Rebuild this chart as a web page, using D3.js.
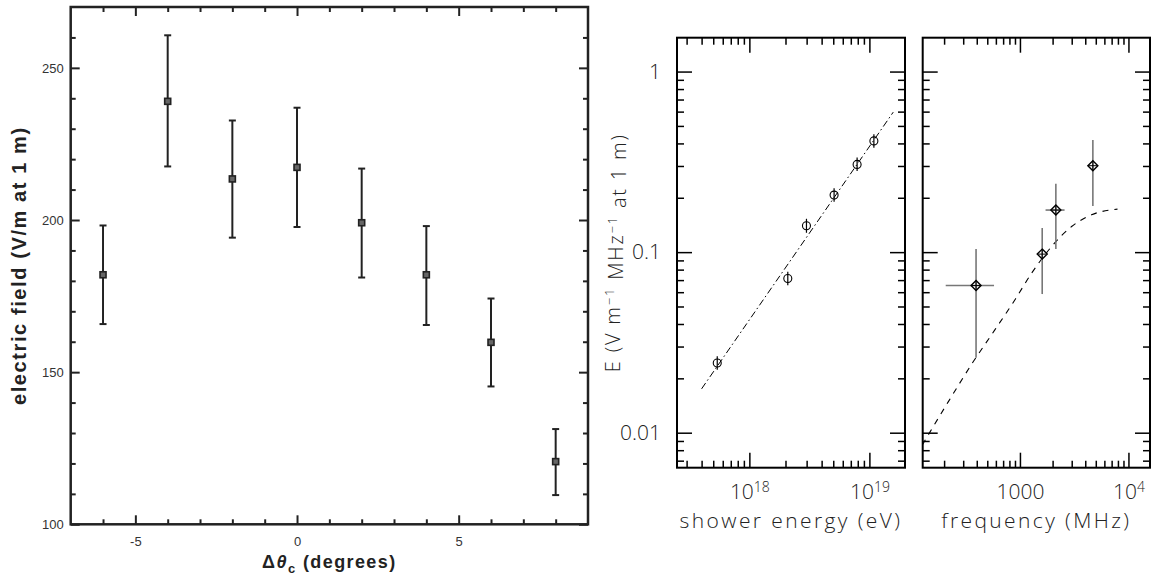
<!DOCTYPE html>
<html>
<head>
<meta charset="utf-8">
<script src="https://cdn.jsdelivr.net/npm/d3@7"></script>
<style>
  body { margin: 0; background: #fff; }
  .lt text { font-family: "Liberation Sans", Arial, sans-serif; font-size: 13px; fill: #333; }
  .thin text { font-family: "Open Sans", "DejaVu Sans", sans-serif; font-weight: 300; font-size: 21px; fill: #222; }
</style>
</head>
<body>
<svg id="chart" width="1151" height="579"></svg>
<script>
// left panel: field vs. offset from the Cherenkov angle
const angles = [-6, -4, -2, 0, 2, 4, 6, 8];
const fieldVals = [182, 239, 213.5, 217.3, 199.1, 182, 159.8, 120.6];
const fieldLo = [165.8, 217.6, 194.2, 197.7, 181.1, 165.5, 145.3, 109.6];
const fieldHi = [198.2, 260.7, 232.7, 236.9, 216.9, 198, 174.2, 131.3];
const angleTicks = [-5, 0, 5];
const fieldTicks = [100, 150, 200, 250];

// middle panel: field vs. shower energy
const energies = [5.4e17, 2.09e18, 2.99e18, 5.08e18, 7.9e18, 1.09e19];
const energyField = [0.0243, 0.0714, 0.140, 0.207, 0.306, 0.413];
const energyFieldLo = [0.0223, 0.0655, 0.128, 0.190, 0.281, 0.379];
const energyFieldHi = [0.0265, 0.0778, 0.153, 0.226, 0.334, 0.450];
const fitEnergy = [4.0e17, 1.58e19];
const fitField = [0.0175, 0.596];
const energyTicks = [1e18, 1e19];

// right panel: field vs. frequency
const freqs = [394, 1604, 2143, 4700];
const freqLo = [207, null, 1722, null];
const freqHi = [577, null, 2578, null];
const freqField = [0.0653, 0.0975, 0.171, 0.301];
const freqFieldLo = [0.026, 0.0586, 0.104, 0.180];
const freqFieldHi = [0.104, 0.136, 0.239, 0.418];
const modelFreq = [126, 149, 219, 372, 589, 900, 1282, 1959, 2993, 4571, 7925];
const modelField = [0.00855, 0.01014, 0.01486, 0.02477, 0.0372, 0.0545, 0.0765, 0.1074, 0.1386, 0.161, 0.173];
const freqTicks = [1000, 1e4];
const logFieldTicks = [0.01, 0.1, 1];

const svg = d3.select('#chart');

// ticks pointing into the frame on all four sides
function frameTicks(g, x, y, box, opt) {
  const sides = [
    [d3.axisBottom(x), `translate(0,${box.b})`, opt.xMajor, opt.xMinor, opt.xLabels],
    [d3.axisTop(x), `translate(0,${box.t})`, opt.xMajor, opt.xMinor, false],
    [d3.axisLeft(y), `translate(${box.l},0)`, opt.yMajor, opt.yMinor, opt.yLabels],
    [d3.axisRight(y), `translate(${box.r},0)`, opt.yMajor, opt.yMinor, false]
  ];
  sides.forEach(([ax, tr, major, minor, lab], i) => {
    const isX = i < 2;
    const aMin = g.append('g').attr('transform', tr)
      .call(ax.tickValues(minor).tickSize(-(isX ? opt.xMinLen : opt.yMinLen)).tickFormat(''));
    aMin.select('.domain').remove();
    const aMaj = g.append('g').attr('transform', tr)
      .call(ax.tickValues(major).tickSize(-(isX ? opt.xMajLen : opt.yMajLen))
        .tickPadding(isX ? opt.xPad : opt.yPad)
        .tickFormat(lab ? (isX ? opt.xFmt : opt.yFmt) : ''));
    aMaj.select('.domain').remove();
    [aMin, aMaj].forEach(a => a.selectAll('line')
      .attr('stroke', opt.tickColor).attr('stroke-width', opt.tickWidth));
    if (lab && opt.after) opt.after(aMaj, isX);
  });
  g.append('rect')
    .attr('x', box.l).attr('y', box.t)
    .attr('width', box.r - box.l).attr('height', box.b - box.t)
    .attr('fill', 'none').attr('stroke', opt.frameColor).attr('stroke-width', opt.frameWidth);
}

/* ------- left panel ------- */
const boxA = {l: 70.7, r: 588, t: 7, b: 524.3};
const xA = d3.scaleLinear().domain([-7, 9]).range([boxA.l, boxA.r]);
const yA = d3.scaleLinear().domain([100, 270]).range([boxA.b, boxA.t]);
const gA = svg.append('g').attr('class', 'lt');

frameTicks(gA, xA, yA, boxA, {
  xMajor: angleTicks, xMinor: d3.range(-6, 9).filter(v => v % 5 !== 0),
  yMajor: fieldTicks, yMinor: d3.range(110, 270, 10).filter(v => v % 50 !== 0),
  xMajLen: 9, xMinLen: 5, yMajLen: 9, yMinLen: 5,
  xPad: 12, yPad: 7, xLabels: true, yLabels: true,
  xFmt: d => String(d), yFmt: d => String(d),
  tickColor: '#222', tickWidth: 2, frameColor: '#222', frameWidth: 2.5
});

const ptsA = angles.map((a, k) => ({a, v: fieldVals[k], lo: fieldLo[k], hi: fieldHi[k]}));
const errA = gA.append('g').attr('stroke', '#222').attr('stroke-width', 2);
errA.selectAll('line.bar').data(ptsA).enter().append('line')
  .attr('x1', d => xA(d.a)).attr('x2', d => xA(d.a))
  .attr('y1', d => yA(d.lo)).attr('y2', d => yA(d.hi));
['lo', 'hi'].forEach(key => {
  errA.selectAll('line.cap-' + key).data(ptsA).enter().append('line')
    .attr('x1', d => xA(d.a) - 3.5).attr('x2', d => xA(d.a) + 3.5)
    .attr('y1', d => yA(d[key])).attr('y2', d => yA(d[key]));
});
gA.selectAll('rect.pt').data(ptsA).enter().append('rect')
  .attr('x', d => xA(d.a) - 3).attr('y', d => yA(d.v) - 3)
  .attr('width', 6).attr('height', 6)
  .attr('fill', '#666').attr('stroke', '#222').attr('stroke-width', 1.6);

gA.append('text')
  .attr('transform', `translate(26,${(boxA.t + boxA.b) / 2}) rotate(-90)`)
  .attr('text-anchor', 'middle')
  .style('font-size', '20px').style('font-weight', 'bold').style('letter-spacing', '1.6px')
  .style('fill', '#222')
  .text('electric field (V/m at 1 m)');

const xTitleA = gA.append('text')
  .attr('x', (boxA.l + boxA.r) / 2).attr('y', 568)
  .attr('text-anchor', 'middle')
  .style('font-size', '18px').style('font-weight', 'bold').style('letter-spacing', '1.4px')
  .style('fill', '#222');
xTitleA.append('tspan').text('Δ');
xTitleA.append('tspan').style('font-style', 'italic').text('θ');
xTitleA.append('tspan').attr('dy', 5).style('font-size', '13px').text('c');
xTitleA.append('tspan').attr('dy', -5).text(' (degrees)');

/* ------- log panels ------- */
const boxB = {l: 677, r: 905, t: 37.7, b: 467.7};
const boxC = {l: 922.7, r: 1150, t: 37.7, b: 467.7};
const yLog = d3.scaleLog().domain([0.0064, 1.54]).range([boxB.b, boxB.t]);
const xB = d3.scaleLog().domain([2.495e17, 1.98e19]).range([boxB.l, boxB.r]);
const xC = d3.scaleLog().domain([127, 1.58e4]).range([boxC.l, boxC.r]);

function powLabel(sel) {
  sel.selectAll('.tick text').each(function(d) {
    const t = d3.select(this);
    const e = Math.round(Math.log10(d));
    t.text(null);
    if (d === 1000) { t.text('1000'); return; }
    t.append('tspan').text('10');
    t.append('tspan').attr('dy', '-0.45em').style('font-size', '14px').text(String(e));
  });
}

const logOpt = {
  yMajor: logFieldTicks, yMinor: yLog.ticks().filter(v => !logFieldTicks.includes(v)),
  xMajLen: 15, xMinLen: 7, yMajLen: 15, yMinLen: 7,
  xPad: 16, yPad: 16,
  tickColor: '#000', tickWidth: 1.5, frameColor: '#000', frameWidth: 2,
  yFmt: d => String(d)
};

const gB = svg.append('g').attr('class', 'thin');
frameTicks(gB, xB, yLog, boxB, Object.assign({}, logOpt, {
  xMajor: energyTicks, xMinor: xB.ticks().filter(v => !energyTicks.includes(v)),
  xLabels: true, yLabels: true, xFmt: d => d, after: (a, isX) => { if (isX) powLabel(a); }
}));

const gC = svg.append('g').attr('class', 'thin');
frameTicks(gC, xC, yLog, boxC, Object.assign({}, logOpt, {
  xMajor: freqTicks, xMinor: xC.ticks().filter(v => !freqTicks.includes(v)),
  xLabels: true, yLabels: false, xFmt: d => d, after: (a, isX) => { if (isX) powLabel(a); }
}));

// fit line (dash-dot)
const lineB = d3.line().x(d => xB(d[0])).y(d => yLog(d[1]));
gB.append('path')
  .attr('d', lineB(d3.zip(fitEnergy, fitField)))
  .attr('fill', 'none').attr('stroke', '#000').attr('stroke-width', 1)
  .attr('stroke-dasharray', '7,3,1.5,3');

const ptsB = energies.map((e, k) => ({e, v: energyField[k], lo: energyFieldLo[k], hi: energyFieldHi[k]}));
gB.selectAll('line.err').data(ptsB).enter().append('line')
  .attr('x1', d => xB(d.e)).attr('x2', d => xB(d.e))
  .attr('y1', d => yLog(d.lo)).attr('y2', d => yLog(d.hi))
  .attr('stroke', '#000').attr('stroke-width', 1.2);
gB.selectAll('circle.pt').data(ptsB).enter().append('circle')
  .attr('cx', d => xB(d.e)).attr('cy', d => yLog(d.v)).attr('r', 4)
  .attr('fill', 'none').attr('stroke', '#000').attr('stroke-width', 1.1);

// model curve (dashed)
const lineC = d3.line().curve(d3.curveMonotoneX).x(d => xC(d[0])).y(d => yLog(d[1]));
gC.append('path')
  .attr('d', lineC(d3.zip(modelFreq, modelField)))
  .attr('fill', 'none').attr('stroke', '#000').attr('stroke-width', 1.1)
  .attr('stroke-dasharray', '6,6');

const ptsC = freqs.map((f, k) => ({f, v: freqField[k], lo: freqFieldLo[k], hi: freqFieldHi[k], fl: freqLo[k], fh: freqHi[k]}));
const errC = gC.append('g').attr('stroke', '#777').attr('stroke-width', 1.6);
errC.selectAll('line.v').data(ptsC).enter().append('line')
  .attr('x1', d => xC(d.f)).attr('x2', d => xC(d.f))
  .attr('y1', d => yLog(d.lo)).attr('y2', d => yLog(d.hi));
errC.selectAll('line.h').data(ptsC.filter(d => d.fl !== null)).enter().append('line')
  .attr('x1', d => xC(d.fl)).attr('x2', d => xC(d.fh))
  .attr('y1', d => yLog(d.v)).attr('y2', d => yLog(d.v));
const diam = gC.selectAll('g.pt').data(ptsC).enter().append('g')
  .attr('transform', d => `translate(${xC(d.f)},${yLog(d.v)})`)
  .attr('stroke', '#000').attr('stroke-width', 1.4).attr('fill', 'none');
diam.append('path').attr('d', 'M0,-5L5,0L0,5L-5,0Z');
diam.append('path').attr('d', 'M-5,0H5M0,-5V5').attr('stroke-width', 1);

// titles
gB.append('text')
  .attr('x', (boxB.l + boxB.r) / 2).attr('y', 528)
  .attr('text-anchor', 'middle').style('letter-spacing', '2.4px')
  .text('shower energy (eV)');
gC.append('text')
  .attr('x', (boxC.l + boxC.r) / 2).attr('y', 528)
  .attr('text-anchor', 'middle').style('letter-spacing', '2.4px')
  .text('frequency (MHz)');

const yTitle = gB.append('text')
  .attr('transform', `translate(620,${(boxB.t + boxB.b) / 2}) rotate(-90)`)
  .attr('text-anchor', 'middle').style('font-size', '20px').style('letter-spacing', '1.8px');
yTitle.append('tspan').text('E (V m');
yTitle.append('tspan').attr('dy', '-0.45em').style('font-size', '13px').text('−1');
yTitle.append('tspan').attr('dy', '0.45em').text(' MHz');
yTitle.append('tspan').attr('dy', '-0.45em').style('font-size', '13px').text('−1');
yTitle.append('tspan').attr('dy', '0.45em').text(' at 1 m)');
</script>
</body>
</html>
